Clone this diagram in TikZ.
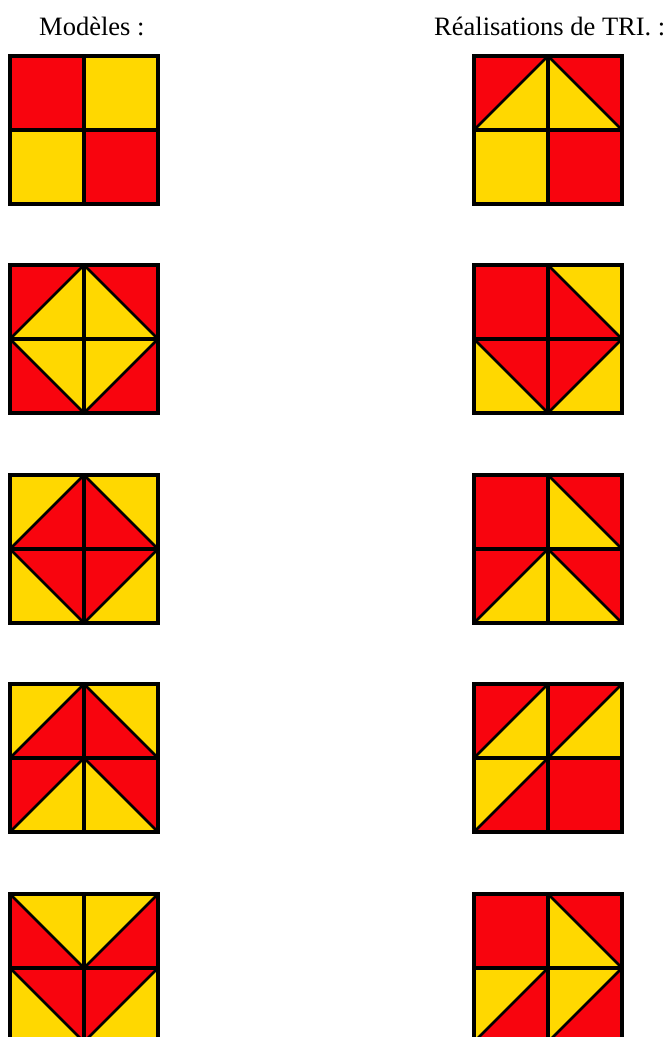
\documentclass[tikz,border=0pt]{standalone}
\usepackage{fontspec}
\setmainfont{Liberation Serif}
\definecolor{tred}{RGB}{248,4,14}
\definecolor{tyel}{RGB}{255,216,0}

% one 2x2 motif: cells (i/j/colour), triangles (i/j/dx/dy/colour)
\newcommand\motif[4]{%
  \begin{scope}[shift={(#1,#2)},x=74pt,y=-74pt]
    \foreach \i/\j/\c in {#3}
      \fill[\c] (\i,\j) rectangle ++(1,1);
    \foreach \i/\j/\dx/\dy/\c in {#4} {
      \fill[\c] (\i+\dx,\j+\dy) -- (\i+1-\dx,\j+\dy) -- (\i+\dx,\j+1-\dy) -- cycle;
      \draw[diag] (\i+1-\dx,\j+\dy) -- (\i+\dx,\j+1-\dy);
    }
    \draw[grid] (1,0) -- (1,2) (0,1) -- (2,1);
    \draw[frame] (0,0) rectangle (2,2);
  \end{scope}}

\begin{document}
\begin{tikzpicture}[x=1pt,y=-1pt]
    % Define styles
    \tikzstyle{diag} = [black, line width=2.6pt]
    \tikzstyle{grid} = [black, line width=3.2pt]
    \tikzstyle{frame} = [black, line width=4.5pt]
    \tikzstyle{title} = [inner sep=0pt, anchor=base west, font=\fontsize{26.5}{30}\selectfont]

    \useasboundingbox (0,0) rectangle (670,1037);
    \clip (0,0) rectangle (670,1037);

    \node(modeles)[title] at (39,35) {Modèles :};
    \node(realisations)[title] at (434,35) {Réalisations de TRI. :};

    % Models
    \motif{10}{56}{0/0/tred,1/0/tyel,0/1/tyel,1/1/tred}{}
    \motif{10}{265}{0/0/tyel,1/0/tyel,0/1/tyel,1/1/tyel}
      {0/0/0/0/tred,1/0/1/0/tred,0/1/0/1/tred,1/1/1/1/tred}
    \motif{10}{475}{0/0/tred,1/0/tred,0/1/tred,1/1/tred}
      {0/0/0/0/tyel,1/0/1/0/tyel,0/1/0/1/tyel,1/1/1/1/tyel}
    \motif{10}{684}{0/0/tred,1/0/tred,0/1/tyel,1/1/tyel}
      {0/0/0/0/tyel,1/0/1/0/tyel,0/1/0/0/tred,1/1/1/0/tred}
    \motif{10}{894}{0/0/tred,1/0/tred,0/1/tred,1/1/tred}
      {0/0/1/0/tyel,1/0/0/0/tyel,0/1/0/1/tyel,1/1/1/1/tyel}

    % Realisations
    \motif{474}{56}{0/0/tyel,1/0/tyel,0/1/tyel,1/1/tred}
      {0/0/0/0/tred,1/0/1/0/tred}
    \motif{474}{265}{0/0/tred,1/0/tred,0/1/tred,1/1/tred}
      {1/0/1/0/tyel,0/1/0/1/tyel,1/1/1/1/tyel}
    \motif{474}{475}{0/0/tred,1/0/tyel,0/1/tyel,1/1/tyel}
      {1/0/1/0/tred,0/1/0/0/tred,1/1/1/0/tred}
    \motif{474}{684}{0/0/tyel,1/0/tyel,0/1/tred,1/1/tred}
      {0/0/0/0/tred,1/0/0/0/tred,0/1/0/0/tyel}
    \motif{474}{894}{0/0/tred,1/0/tyel,0/1/tred,1/1/tred}
      {1/0/1/0/tred,0/1/0/0/tyel,1/1/0/0/tyel}
\end{tikzpicture}
\end{document}
